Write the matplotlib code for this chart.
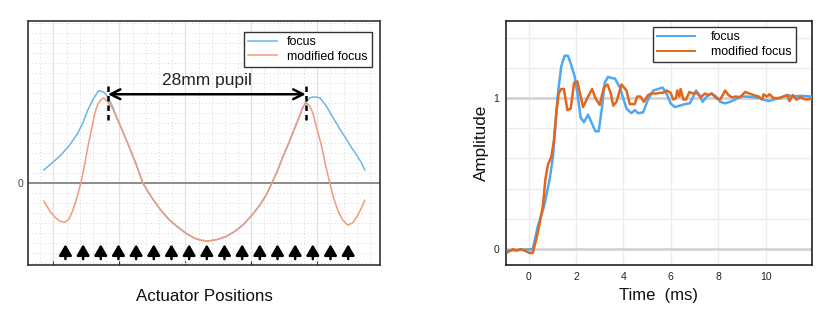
import numpy as np
import matplotlib
matplotlib.use("Agg")
import matplotlib.pyplot as plt
from matplotlib.ticker import MultipleLocator, FixedLocator

plt.rcParams['font.family'] = ['Liberation Sans', 'DejaVu Sans']

# ---- left panel: mirror shape vs actuator position (mm) ----
x_focus = [-23.05, -21.9, -20.65, -19.4, -18.25, -17.5, -16.9, -16.0, -15.3, -14.6, -14.0, -13.3, -12.6,
           -11.2, -10.0, -9.05, -7.8, -6.5, -5.3, -4.1, -2.9, -1.7, -0.8, 0.14,
           1.5, 2.8, 4.0, 5.1, 6.3, 7.5, 8.4, 9.2, 10.0, 10.75, 11.6, 12.45, 13.0,
           13.6, 14.1, 14.6, 15.0, 15.5, 16.0, 16.9, 17.8, 18.8, 19.8, 20.5, 21.2, 21.8, 22.35]
y_focus = [0.33, 0.50, 0.70, 0.95, 1.25, 1.52, 1.80, 2.12, 2.31, 2.28, 2.15, 1.90, 1.58,
           1.00, 0.47, 0.00, -0.36, -0.68, -0.92, -1.10, -1.26, -1.38, -1.43, -1.45,
           -1.41, -1.33, -1.20, -1.05, -0.82, -0.55, -0.30, 0.00, 0.31, 0.65, 1.00, 1.38, 1.62,
           1.90, 2.05, 2.13, 2.15, 2.15, 2.13, 1.93, 1.65, 1.36, 1.08, 0.88, 0.70, 0.53, 0.33]

x_mod = [-23.05, -22.2, -21.5, -20.8, -20.08, -19.5, -18.95, -18.4, -17.82, -17.3, -16.83,
         -16.3, -15.84, -15.4, -14.99, -14.57, -14.0, -13.3, -12.6,
         -11.2, -10.0, -9.05, -7.8, -6.5, -5.3, -4.1, -2.9, -1.7, -0.8, 0.14,
         1.5, 2.8, 4.0, 5.1, 6.3, 7.5, 8.4, 9.2, 10.0, 10.75, 11.6, 12.45, 13.0,
         13.6, 14.14, 14.6, 15.0, 15.6, 16.27, 16.8, 17.4, 17.9, 18.53, 19.2, 19.94,
         20.6, 21.2, 21.8, 22.35]
y_mod = [-0.45, -0.70, -0.85, -0.95, -0.98, -0.90, -0.68, -0.38, 0.00, 0.45, 0.90,
         1.35, 1.75, 1.98, 2.08, 2.13, 2.03, 1.85, 1.58,
         1.00, 0.47, 0.00, -0.36, -0.68, -0.92, -1.10, -1.26, -1.38, -1.43, -1.45,
         -1.41, -1.33, -1.20, -1.05, -0.82, -0.55, -0.30, 0.00, 0.31, 0.65, 1.00, 1.38, 1.62,
         1.90, 2.00, 1.92, 1.75, 1.35, 0.90, 0.45, 0.00, -0.35, -0.68, -0.92, -1.05,
         -1.00, -0.85, -0.65, -0.43]

actuators = [-20, -17.5, -15, -12.5, -10, -7.5, -5, -2.5, 0, 2.5, 5, 7.5, 10, 12.5, 15, 17.5, 20]
pupil_edges = [-14, 14]

# ---- right panel: step response ----
t_focus = [-0.87, 0.18, 0.39, 0.65, 0.89, 1.03, 1.13, 1.24, 1.38, 1.52, 1.66, 1.80, 1.95,
           2.06, 2.20, 2.34, 2.51, 2.68, 2.82, 2.96, 3.10, 3.21, 3.35, 3.57, 3.64, 3.85,
           4.13, 4.34, 4.48, 4.62, 4.83, 5.04, 5.26, 5.47, 5.65, 5.82, 5.99, 6.17, 6.38,
           6.60, 6.80, 6.95, 7.06, 7.20, 7.34, 7.51, 7.72, 7.91, 8.08, 8.29, 8.50, 8.71,
           8.92, 9.20, 9.48, 9.77, 9.91, 10.12, 10.33, 10.61, 10.90, 11.17, 11.46, 11.95]
a_focus = [-0.01, 0.00, 0.15, 0.28, 0.46, 0.61, 0.81, 1.03, 1.21, 1.28, 1.28, 1.22, 1.14,
           1.03, 0.87, 0.84, 0.89, 0.83, 0.78, 0.78, 0.94, 1.10, 1.14, 1.13, 1.13, 1.07,
           0.93, 0.90, 0.92, 0.90, 0.905, 0.99, 1.05, 1.06, 1.07, 1.03, 0.965, 0.94, 0.95,
           0.96, 0.965, 1.01, 1.05, 1.02, 0.975, 1.01, 1.03, 1.01, 0.975, 0.965, 0.975, 0.99,
           1.01, 1.01, 1.005, 1.00, 0.99, 0.98, 0.99, 1.00, 1.02, 1.01, 1.015, 1.01]

t_mod = [-0.87, -0.66, -0.52, -0.34, -0.17, 0.04, 0.18, 0.32, 0.47, 0.61, 0.71, 0.82, 0.96,
         1.07, 1.17, 1.27, 1.38, 1.49, 1.64, 1.78, 1.92, 2.06, 2.17, 2.30, 2.48, 2.68,
         2.82, 3.00, 3.18, 3.33, 3.47, 3.57, 3.71, 3.92, 4.13, 4.27, 4.48, 4.58, 4.72,
         4.86, 5.04, 5.19, 5.40, 5.54, 5.68, 5.82, 5.99, 6.10, 6.22, 6.27, 6.36, 6.41,
         6.53, 6.64, 6.78, 6.95, 7.09, 7.26, 7.44, 7.58, 7.72, 7.91, 8.08, 8.29, 8.43,
         8.57, 8.75, 8.92, 9.13, 9.31, 9.48, 9.70, 9.84, 9.91, 10.05, 10.16, 10.33, 10.54,
         10.75, 10.90, 11.00, 11.15, 11.29, 11.46, 11.67, 11.95]
a_mod = [-0.02, 0.00, -0.01, 0.00, -0.01, -0.025, -0.025, 0.06, 0.17, 0.29, 0.46, 0.56, 0.61,
         0.72, 0.90, 1.03, 1.06, 1.06, 0.92, 0.93, 1.10, 1.11, 1.03, 0.94, 1.00, 1.06,
         1.00, 0.955, 1.07, 1.09, 1.03, 0.95, 0.975, 1.09, 1.05, 0.96, 0.96, 1.01, 1.01,
         0.975, 1.02, 1.03, 1.03, 1.035, 1.035, 1.05, 1.035, 0.99, 1.00, 1.05, 1.01, 1.06,
         0.99, 0.99, 1.04, 1.03, 1.035, 1.005, 1.03, 1.02, 1.03, 1.00, 0.99, 1.05, 1.02,
         1.005, 1.01, 1.005, 1.04, 1.03, 1.02, 1.01, 0.99, 1.025, 1.01, 1.025, 1.00, 1.00,
         1.01, 1.02, 0.98, 1.02, 0.99, 1.005, 0.99, 0.995]

fig = plt.figure(figsize=(8.3, 3.09), dpi=100)

# ================= left =================
ax1 = fig.add_axes([0.0337, 0.142, 0.4241, 0.790])
ax1.set_xlim(-25.3, 24.5)
ax1.set_ylim(-2.05, 4.05)

major_x = np.arange(-21.7, 24, 9.33)
ax1.xaxis.set_major_locator(FixedLocator(major_x))
ax1.xaxis.set_minor_locator(FixedLocator(np.arange(-21.7 - 9.33, 25, 9.33 / 5)))
ax1.yaxis.set_major_locator(MultipleLocator(1))
ax1.yaxis.set_minor_locator(MultipleLocator(0.25))
ax1.grid(which='major', color='#e2e2e2', lw=0.9, ls='-')
ax1.grid(which='minor', color='#d6d6d6', lw=0.7, ls=(0, (1, 2.5)))
ax1.set_axisbelow(True)
ax1.set_yticks([0])
ax1.set_yticklabels(['0'])
ax1.tick_params(axis='y', which='both', length=0, labelsize=7.5, labelcolor='#444444', pad=3)
ax1.tick_params(axis='x', which='major', direction='in', length=3, width=0.8,
                labelbottom=False, color='#333333')
ax1.tick_params(axis='x', which='minor', length=0)
ax1.tick_params(axis='y', which='minor', length=0)

ax1.axhline(0, color='#8c8c8c', lw=1.4, zorder=1.5)
ax1.plot(x_focus, y_focus, color='#6cb6e3', lw=1.1, label='focus', zorder=3)
ax1.plot(x_mod, y_mod, color='#f29a7d', lw=1.1, label='modified focus', zorder=3)

for xe in pupil_edges:
    ax1.plot([xe, xe], [1.58, 2.52], color='black', lw=1.8, ls=(0, (2.2, 1.6)), zorder=4)
ax1.annotate('', xy=(pupil_edges[0], 2.22), xytext=(pupil_edges[1], 2.22),
             arrowprops=dict(arrowstyle='<->,head_width=0.35,head_length=0.7',
                             color='black', lw=1.8, shrinkA=0, shrinkB=0), zorder=4)
ax1.text(0, 2.38, '28mm pupil', ha='center', va='bottom', fontsize=12.5, color='#222222')

for xa in actuators:
    ax1.annotate('', xy=(xa, -1.53), xytext=(xa, -1.9),
                 arrowprops=dict(arrowstyle='-|>,head_width=0.38,head_length=0.65',
                                 color='black', lw=1.8, shrinkA=0, shrinkB=0))

ax1.set_xlabel('Actuator Positions', fontsize=12.2, labelpad=14, color='#111111')
for s in ax1.spines.values():
    s.set_color('#333333')
    s.set_linewidth(1.2)

leg1 = ax1.legend(loc='upper right', bbox_to_anchor=(0.977, 0.955), fontsize=9,
                  frameon=True, fancybox=False, edgecolor='#333333', framealpha=1,
                  handlelength=2.3, handletextpad=0.8, borderpad=0.35, labelspacing=0.2,
                  borderaxespad=0)
leg1.get_frame().set_linewidth(1.0)

# ================= right =================
ax2 = fig.add_axes([0.6096, 0.142, 0.3687, 0.790])
ax2.set_xlim(-0.95, 11.95)
ax2.set_ylim(-0.106, 1.51)
ax2.set_xticks([0, 2, 4, 6, 8, 10])
ax2.set_yticks([0, 1])
ax2.yaxis.set_minor_locator(MultipleLocator(0.2))
ax2.grid(which='major', axis='x', color='#ececec', lw=1.0)
ax2.grid(which='minor', axis='y', color='#ececec', lw=1.0)
ax2.grid(which='major', axis='y', color='#d4d4d4', lw=2.0)
ax2.set_axisbelow(True)
ax2.tick_params(which='both', length=0, labelsize=7.5, labelcolor='#222222', pad=5)

ax2.plot(t_focus, a_focus, color='#4fa8f2', lw=1.8, label='focus', zorder=3)
ax2.plot(t_mod, a_mod, color='#e2671c', lw=1.8, label='modified focus', zorder=3)

ax2.set_xlabel('Time  (ms)', fontsize=12, labelpad=4, color='#111111')
ax2.set_ylabel('Amplitude', fontsize=12.3, labelpad=3, color='#111111')
for s in ax2.spines.values():
    s.set_color('#222222')
    s.set_linewidth(1.2)

leg2 = ax2.legend(loc='upper right', bbox_to_anchor=(0.948, 0.975), fontsize=9,
                  frameon=True, fancybox=False, edgecolor='#333333', framealpha=1,
                  handlelength=3.0, handletextpad=1.3, borderpad=0.35, labelspacing=0.2,
                  borderaxespad=0)
leg2.get_frame().set_linewidth(1.0)
for line in leg2.get_lines():
    line.set_linewidth(1.4)

fig.savefig('out.png', dpi=100)
